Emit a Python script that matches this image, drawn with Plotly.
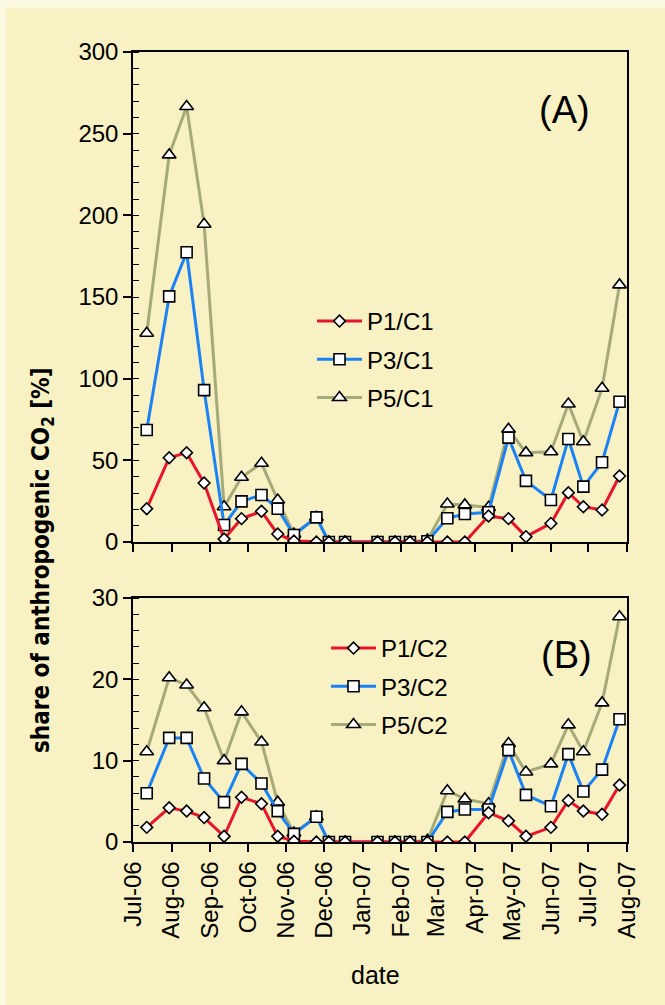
import plotly.graph_objects as go

# ---------------- data ----------------
dates = ["2006-07-12", "2006-07-30", "2006-08-13", "2006-08-27", "2006-09-12", "2006-09-26",
         "2006-10-12", "2006-10-25", "2006-11-07", "2006-11-25", "2006-12-05", "2006-12-18",
         "2007-01-13", "2007-01-27", "2007-02-08", "2007-02-22", "2007-03-10", "2007-03-24",
         "2007-04-12", "2007-04-28", "2007-05-12", "2007-06-01", "2007-06-15", "2007-06-27",
         "2007-07-12", "2007-07-26"]

p1_c1 = [20.4, 51.6, 54.7, 36.1, 1.8, 14.3, 18.8, 4.9, 0.6, 0, 0, 0, 0, 0, 0, 0, 0, 0,
         15.9, 14.3, 3.3, 11.4, 30.2, 21.6, 19.6, 40.4]
p3_c1 = [68.6, 150.4, 177.4, 93.0, 10.4, 24.9, 28.8, 20.4, 4.3, 15.1, 0, 0, 0, 0, 0, 0.5,
         14.5, 17.1, 18.2, 63.9, 37.4, 25.7, 63.1, 33.9, 48.8, 85.9]
p5_c1 = [127.8, 237.0, 266.6, 194.5, 21.6, 39.6, 48.2, 25.7, 4.9, 15.1, 0, 0, 0, 0, 0, 1.2,
         23.3, 22.7, 21.2, 69.0, 54.7, 55.3, 84.5, 61.4, 94.1, 157.4]

p1_c2 = [1.8, 4.2, 3.8, 3.0, 0.7, 5.5, 4.7, 0.7, 0.1, 0, 0, 0, 0, 0, 0, 0, 0, 0,
         3.6, 2.6, 0.7, 1.8, 5.1, 3.8, 3.4, 7.0]
p3_c2 = [6.0, 12.8, 12.8, 7.8, 4.9, 9.6, 7.2, 3.8, 1.0, 3.1, 0, 0, 0, 0, 0, 0,
         3.7, 4.0, 4.0, 11.3, 5.8, 4.4, 10.8, 6.2, 8.9, 15.1]
p5_c2 = [11.1, 20.2, 19.3, 16.5, 10.0, 16.0, 12.3, 4.9, 1.1, 3.1, 0, 0, 0, 0, 0, 0.2,
         6.3, 5.3, 4.7, 12.1, 8.6, 9.6, 14.4, 11.1, 17.1, 27.7]

names_a = ["P1/C1", "P3/C1", "P5/C1"]
names_b = ["P1/C2", "P3/C2", "P5/C2"]

# ---------------- style ----------------
colors = ["#E8142C", "#1A82F5", "#A6AA78"]
symbols = ["diamond", "square", "triangle-up"]
msizes = [9, 11, 12]
BG = "#F7F1C3"
FONT = "Liberation Sans, Arial, sans-serif"

fig = go.Figure()

series_a = [p1_c1, p3_c1, p5_c1]
series_b = [p1_c2, p3_c2, p5_c2]

for i in [2, 1, 0]:
    fig.add_trace(go.Scatter(
        x=dates, y=series_a[i], name=names_a[i], mode="lines+markers",
        line=dict(color=colors[i], width=3),
        marker=dict(symbol=symbols[i], size=msizes[i], color="white",
                    line=dict(color="black", width=1.6)),
        xaxis="x", yaxis="y", legend="legend", legendgroup="a%d" % i,
        legendrank=i + 1))
for i in [2, 1, 0]:
    fig.add_trace(go.Scatter(
        x=dates, y=series_b[i], name=names_b[i], mode="lines+markers",
        line=dict(color=colors[i], width=3),
        marker=dict(symbol=symbols[i], size=msizes[i], color="white",
                    line=dict(color="black", width=1.6)),
        xaxis="x2", yaxis="y2", legend="legend2", legendgroup="b%d" % i,
        legendrank=i + 1))

xcommon = dict(
    type="date", range=["2006-07-01", "2007-08-01"], tick0="2006-07-01", dtick="M1",
    tickformat="%b-%y", ticks="outside", ticklen=8, tickwidth=1.5, tickcolor="black",
    showline=True, linecolor="black", linewidth=1.5, mirror=True, showgrid=False,
    zeroline=False, tickfont=dict(family=FONT, size=24, color="black"), tickangle=-90,
)

ycommon = dict(
    ticks="outside", ticklen=8, tickwidth=1.5, tickcolor="black",
    showline=True, linecolor="black", linewidth=1.5, mirror=True, showgrid=False,
    zeroline=False, tickfont=dict(family=FONT, size=24, color="black"),
)

lay_domain_a = [300 / 790, 1.0]
lay_domain_b = [0.0, 244 / 790]

def ann(text, px, py, size, family=FONT, angle=0):
    return dict(text=text, x=(px - 133) / 494, y=(842 - py) / 790, xref="paper", yref="paper",
                xanchor="center", yanchor="middle", textangle=angle, showarrow=False,
                font=dict(family=family, size=size, color="black"))

fig.update_layout(
    width=665, height=1005,
    margin=dict(l=133, r=38, t=52, b=163),
    paper_bgcolor="#FBF8E2", plot_bgcolor="white",
    showlegend=True,
    xaxis=dict(**xcommon, anchor="y", showticklabels=False),
    yaxis=dict(**ycommon, domain=lay_domain_a, anchor="x", range=[0, 300], dtick=50,
               minor=dict(dtick=10, ticks="inside", ticklen=6, tickwidth=1.2, tickcolor="black")),
    xaxis2=dict(**xcommon, anchor="y2", matches="x"),
    yaxis2=dict(**ycommon, domain=lay_domain_b, anchor="x2", range=[0, 30], dtick=10,
                minor=dict(dtick=2, ticks="inside", ticklen=6, tickwidth=1.2, tickcolor="black")),
    legend=dict(x=(312 - 133) / 494, y=(842 - 299) / 790, xanchor="left", yanchor="top",
                bgcolor="rgba(0,0,0,0)", borderwidth=0, itemwidth=45,
                font=dict(family=FONT, size=24, color="black"),
                tracegroupgap=4, traceorder="grouped"),
    legend2=dict(x=(326 - 133) / 494, y=(842 - 626) / 790, xanchor="left", yanchor="top",
                 bgcolor="rgba(0,0,0,0)", borderwidth=0, itemwidth=45,
                 font=dict(family=FONT, size=24, color="black"),
                 tracegroupgap=4, traceorder="grouped"),
    annotations=[
        ann("(A)", 564, 110, 38),
        ann("(B)", 566, 655, 38),
        ann("date", 375, 975, 25),
        ann("<b>share of anthropogenic CO<sub>2</sub> [%]</b>", 42, 560, 24,
            family="Liberation Sans Narrow, DejaVu Sans Condensed, Arial Narrow, sans-serif",
            angle=-90),
    ],
    shapes=[
        dict(type="rect", xref="paper", yref="paper", layer="below",
             x0=(6 - 133) / 494, x1=(700 - 133) / 494, y0=(842 - 1100) / 790, y1=(842 - 8) / 790,
             fillcolor=BG, line=dict(width=0)),
    ],
)

fig.write_html("out.html", post_script="document.body.style.margin='0';",
               config={"displayModeBar": False})
